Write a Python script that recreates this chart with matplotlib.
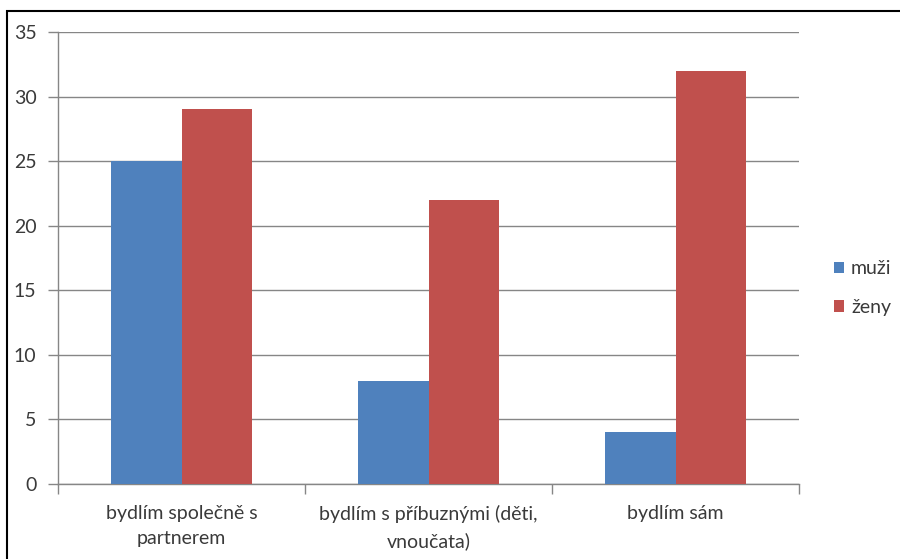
import matplotlib
matplotlib.use('Agg')
import matplotlib.pyplot as plt
import numpy as np
from matplotlib.patches import Rectangle

plt.rcParams['font.family'] = ['Lato', 'DejaVu Sans']

# 数据
categories = ['bydlím společně s\npartnerem', 'bydlím s příbuznými (děti,\nvnoučata)', 'bydlím sám']
muzi = [25, 8, 4]
zeny = [29, 22, 32]
series_names = ['muži', 'ženy']
y_ticks = [0, 5, 10, 15, 20, 25, 30, 35]

blue = '#4F81BD'
red = '#C0504D'
grid_gray = '#868686'
text_color = '#3a3a3a'
fs = 14

fig = plt.figure(figsize=(9, 5.59), dpi=100)
ax = fig.add_axes([58 / 900, 1 - 484 / 559, (799 - 58) / 900, (484 - 32) / 559])

x = np.arange(len(categories))
w = 1 / 3.5
ax.bar(x - w / 2, muzi, width=w, color=blue, label=series_names[0], zorder=3)
ax.bar(x + w / 2, zeny, width=w, color=red, label=series_names[1], zorder=3)

ax.set_xlim(-0.5, len(categories) - 0.5)
ax.set_ylim(0, 35)
ax.set_yticks(y_ticks)
ax.set_yticklabels([str(t) for t in y_ticks], fontsize=fs, color=text_color)
ax.yaxis.grid(True, color=grid_gray, linewidth=1, zorder=0)
ax.tick_params(axis='y', length=7, color=grid_gray, width=1, pad=8.5)

ax.set_xticks(x)
ax.set_xticklabels(categories, fontsize=fs, color=text_color, linespacing=1.6)
ax.tick_params(axis='x', which='major', length=0, pad=15)
ax.set_xticks(np.arange(-0.5, len(categories)), minor=True)
ax.tick_params(axis='x', which='minor', length=7, color=grid_gray, width=1)

for side in ['top', 'right']:
    ax.spines[side].set_visible(False)
for side in ['left', 'bottom']:
    ax.spines[side].set_color(grid_gray)
    ax.spines[side].set_linewidth(1)

leg = fig.legend(loc='center left', bbox_to_anchor=(816 / 900, 1 - 288 / 559),
                 frameon=False, fontsize=fs, handlelength=0.55, handleheight=0.55,
                 handletextpad=0.35, labelspacing=1.1)
for t in leg.get_texts():
    t.set_color(text_color)

# 外边框
fig.patches.append(Rectangle((7 / 900, -0.1), 1.2, 1 - 11 / 559 + 0.1,
                             transform=fig.transFigure, fill=False,
                             edgecolor='black', linewidth=1.5, clip_on=False))

plt.savefig('out.png', dpi=100)
